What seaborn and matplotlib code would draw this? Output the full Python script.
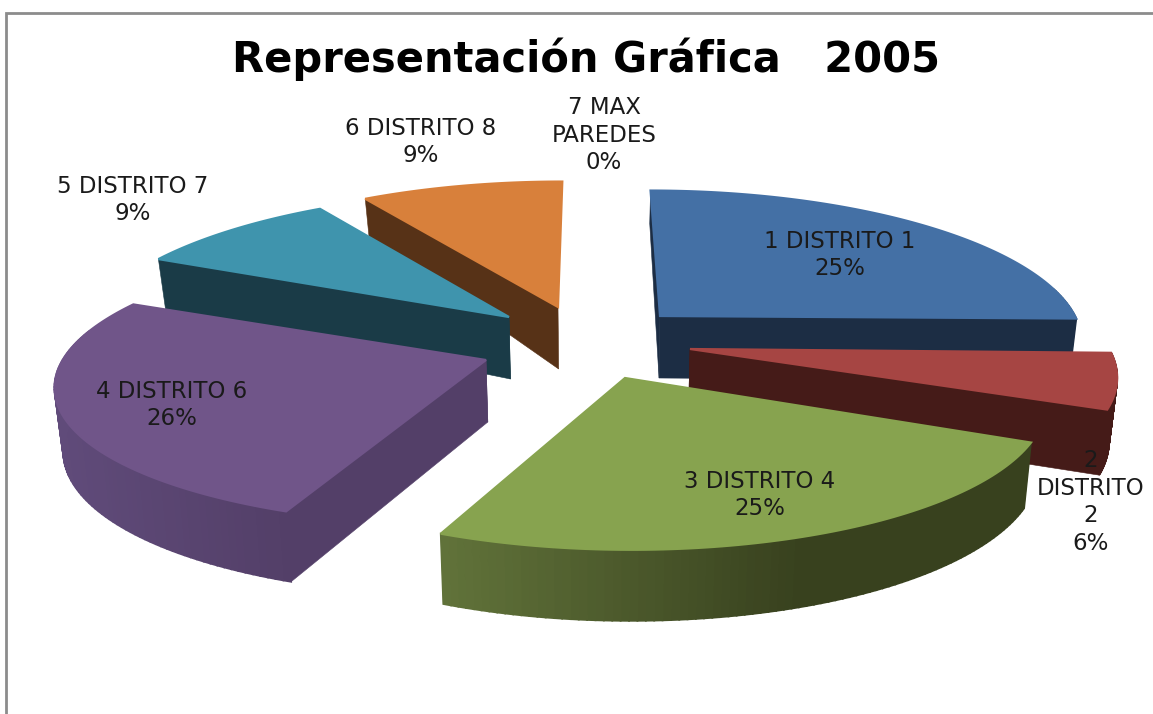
import numpy as np
import matplotlib
matplotlib.use("Agg")
import matplotlib.pyplot as plt
from matplotlib.patches import Polygon
import seaborn as sns

# ---- data -------------------------------------------------------------
categories = ["1 DISTRITO 1", "2 DISTRITO 2", "3 DISTRITO 4", "4 DISTRITO 6",
              "5 DISTRITO 7", "6 DISTRITO 8", "7 MAX PAREDES"]
shares = [25, 6, 25, 26, 9, 9, 0]
label_text = ["1 DISTRITO 1\n25%", "2\nDISTRITO\n2\n6%", "3 DISTRITO 4\n25%",
              "4 DISTRITO 6\n26%", "5 DISTRITO 7\n9%", "6 DISTRITO 8\n9%",
              "7 MAX\nPAREDES\n0%"]
title_text = "Representación Gráfica   2005"

# ---- styling / layout ---------------------------------------------------
top_colors = ["#4470A5", "#A64543", "#87A34F", "#705589", "#3F94AD", "#D8803B", "#D8803B"]
cut_colors = ["#1C2D44", "#451B18", "#3A431F", "#533F68", "#1A3B47", "#573217", "#573217"]
rim_light = ["#1C2D44", "#451B18", "#61733A", "#604B7A", "#1A3B47", "#573217", "#573217"]
rim_dark = ["#1C2D44", "#451B18", "#38411E", "#533F68", "#1A3B47", "#573217", "#573217"]
apex_x = [660, 690, 625, 486, 509, 558, 558]
apex_y = [316, 349, 378, 360, 317, 307, 307]
radius_scale = [1.0, 1.01, 1.0, 1.02, 1.01, 1.0, 1.0]
height_scale = [1.0, 1.0, 1.0, 0.96, 1.0, 1.0, 1.0]
spin_start_deg = [0.0, 1.5, 3.0, 0.0, 0.0, 0.0, 0.0]
spin_end_deg = [1.0, 1.5, 1.5, 0.0, 0.0, 0.0, 0.0]
show_end_cut = [True, True, True, True, True, False, False]
label_x = [840, 1091, 760, 172, 133, 421, 604]
label_y = [255, 502, 495, 405, 200, 142, 135]
draw_order = [5, 4, 3, 0, 1, 2]

RX, RY, PERSP = 415.0, 145.0, 0.156
VANISH_X = 590.0
BASE_X, BASE_SHRINK = 600.0, 0.016
RIM_VISIBLE_FROM = -0.2


def project(i, ang):
    """Project pie-plane angle (clockwise from 12 o'clock) on screen, top face."""
    u, v = np.sin(ang), -np.cos(ang)
    s = 1.0 / (1.0 - PERSP * v)
    x = apex_x[i] + RX * radius_scale[i] * u * s + (apex_x[i] - VANISH_X) * (s - 1)
    y = apex_y[i] + RY * height_scale[i] * v * s
    return x, y


def depth(ang):
    v = -np.cos(ang)
    return np.interp(v, [-1, 0, 1], [33, 62, 71])


def base_x(x):
    return x + (BASE_X - x) * BASE_SHRINK


sns.set_theme(style="white")
plt.rcParams["font.family"] = ["DejaVu Sans"]
fig = plt.figure(figsize=(11.53, 7.14), dpi=100, facecolor="white")
ax = fig.add_axes([0, 0, 1, 1])
ax.set_xlim(0, 1153)
ax.set_ylim(714, 0)
ax.axis("off")

# frame
ax.plot([6, 6, 1153], [714, 13, 13], color="#8C8C8C", lw=2.0, solid_joinstyle="miter")

edges = np.cumsum([0] + shares) / sum(shares) * 2 * np.pi


def quad(pts, color, z, lw=0.4):
    ax.add_patch(Polygon(pts, closed=True, fc=color, ec=color, lw=lw, zorder=z))


for rank, i in enumerate(draw_order):
    a0 = edges[i] + np.deg2rad(spin_start_deg[i])
    a1 = edges[i + 1] + np.deg2rad(spin_end_deg[i])
    angs = np.linspace(a0, a1, 90)
    xs, ys = project(i, angs)
    ds = depth(angs)
    z = 2 + rank * 3
    apex = (apex_x[i], apex_y[i])
    apex_low = (base_x(apex_x[i]), apex_y[i] + 62)
    # radial cut faces
    quad([apex, (xs[0], ys[0]), (base_x(xs[0]), ys[0] + ds[0]), apex_low], cut_colors[i], z)
    if show_end_cut[i]:
        quad([apex, (xs[-1], ys[-1]), (base_x(xs[-1]), ys[-1] + ds[-1]), apex_low], cut_colors[i], z)
    # curved rim, shaded along the arc by horizontal position
    pal = sns.blend_palette([rim_light[i], rim_dark[i]], 64)
    xmin, xmax = xs.min(), xs.max()
    if i == 2:
        xmax = xmin + 360
    for k in range(len(angs) - 1):
        if -np.cos(angs[k]) < RIM_VISIBLE_FROM:
            continue
        t = np.clip((xs[k] - xmin) / max(xmax - xmin, 1), 0, 1)
        col = pal[int(t * 63)]
        quad([(xs[k], ys[k]), (xs[k + 1], ys[k + 1]),
              (base_x(xs[k + 1]), ys[k + 1] + ds[k + 1]), (base_x(xs[k]), ys[k] + ds[k])],
             col, z + 1, lw=1.3)
    # top face
    quad([apex] + list(zip(xs, ys)), top_colors[i], z + 2, lw=1.6)

for i, txt in enumerate(label_text):
    ax.text(label_x[i], label_y[i], txt, ha="center", va="center", fontsize=16.5,
            color="#1a1a1a", linespacing=1.27, zorder=50)

ax.text(586, 59, title_text, ha="center", va="center", fontsize=30,
        fontweight="bold", color="black", zorder=50)

fig.savefig("out.png", dpi=100, facecolor="white")
